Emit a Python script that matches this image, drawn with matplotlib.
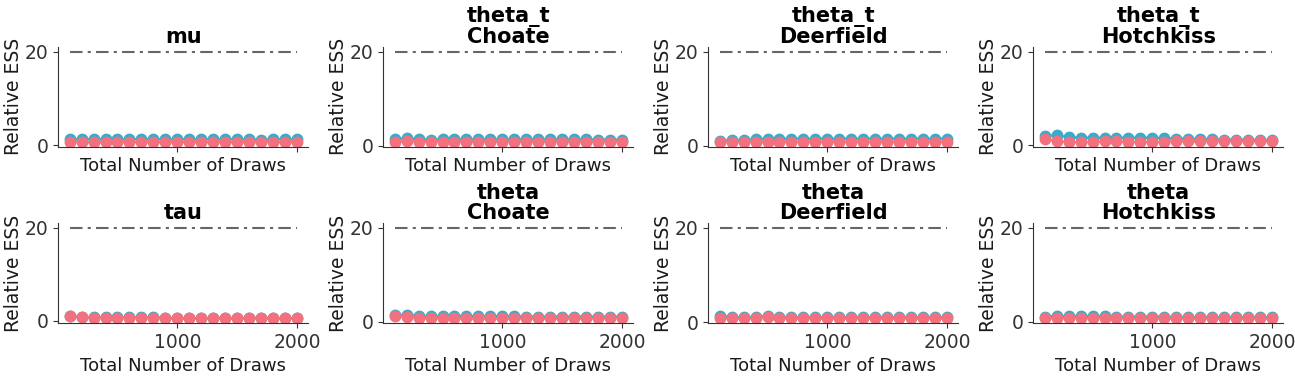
import numpy as np
import matplotlib.pyplot as plt

# draws at which ESS was evaluated
draws = np.arange(100, 2001, 100)

titles = ["mu", "theta_t\nChoate", "theta_t\nDeerfield", "theta_t\nHotchkiss",
          "tau", "theta\nChoate", "theta\nDeerfield", "theta\nHotchkiss"]

# relative ESS (tail / bulk) per panel
tail_mu = [1.3, 1.35, 1.35, 1.3, 1.3, 1.3, 1.35, 1.3, 1.3, 1.3,
           1.3, 1.3, 1.3, 1.3, 1.3, 1.3, 1.25, 1.3, 1.3, 1.3]
bulk_mu = [0.8, 0.7, 0.7, 0.7, 0.7, 0.7, 0.7, 0.7, 0.7, 0.7,
           0.7, 0.7, 0.7, 0.7, 0.7, 0.7, 0.7, 0.7, 0.7, 0.7]
tail_tc = [1.5, 1.6, 1.4, 1.3, 1.4, 1.4, 1.4, 1.4, 1.4, 1.4,
           1.4, 1.4, 1.4, 1.4, 1.4, 1.4, 1.4, 1.35, 1.35, 1.3]
bulk_tc = [0.8, 1.0, 0.9, 0.9, 0.9, 0.9, 0.9, 0.9, 0.9, 0.9,
           0.9, 0.9, 0.9, 0.9, 0.9, 0.9, 0.85, 0.9, 0.9, 0.9]
tail_td = [1.1, 1.2, 1.3, 1.4, 1.5, 1.5, 1.5, 1.5, 1.5, 1.5,
           1.5, 1.5, 1.5, 1.5, 1.5, 1.5, 1.5, 1.5, 1.5, 1.5]
bulk_td = [0.8, 0.8, 0.8, 0.8, 0.8, 0.8, 0.8, 0.8, 0.8, 0.8,
           0.8, 0.8, 0.8, 0.8, 0.8, 0.8, 0.8, 0.8, 0.8, 0.8]
tail_th = [2.0, 2.1, 1.7, 1.6, 1.6, 1.6, 1.6, 1.6, 1.6, 1.6,
           1.5, 1.4, 1.4, 1.3, 1.3, 1.2, 1.2, 1.2, 1.1, 1.1]
bulk_th = [1.3, 0.9, 0.65, 0.65, 0.7, 0.8, 0.8, 0.7, 0.7, 0.7,
           0.7, 0.8, 0.8, 0.8, 0.8, 0.8, 0.8, 0.8, 0.8, 0.8]
tail_tau = [0.9, 0.8, 0.7, 0.7, 0.7, 0.7, 0.7, 0.7, 0.6, 0.5,
            0.5, 0.5, 0.6, 0.6, 0.5, 0.6, 0.6, 0.6, 0.5, 0.5]
bulk_tau = [0.9, 0.7, 0.65, 0.65, 0.65, 0.65, 0.65, 0.65, 0.5, 0.45,
            0.45, 0.45, 0.5, 0.5, 0.45, 0.5, 0.5, 0.5, 0.45, 0.45]
tail_c = [1.4, 1.5, 1.3, 1.2, 1.2, 1.3, 1.2, 1.2, 1.2, 1.2,
          1.2, 1.1, 1.1, 1.1, 1.1, 1.1, 1.1, 1.1, 1.1, 1.1]
bulk_c = [1.3, 1.1, 0.7, 0.8, 0.7, 0.7, 0.7, 0.7, 0.7, 0.7,
          0.7, 0.7, 0.7, 0.7, 0.7, 0.7, 0.7, 0.8, 0.8, 0.8]
tail_d = [1.4, 1.1, 1.1, 1.1, 1.4, 1.1, 1.1, 1.1, 1.1, 1.1,
          1.1, 1.1, 1.1, 1.1, 1.1, 1.1, 1.1, 1.1, 1.1, 1.1]
bulk_d = [0.9, 0.8, 0.8, 0.9, 1.1, 0.8, 0.8, 0.8, 0.8, 0.8,
          0.8, 0.8, 0.8, 0.8, 0.8, 0.8, 0.8, 0.8, 0.8, 0.8]
tail_h = [1.1, 1.2, 1.2, 1.2, 1.2, 1.2, 1.1, 1.1, 1.1, 1.1,
          1.1, 1.0, 1.0, 1.0, 1.0, 1.0, 1.0, 1.0, 1.0, 1.0]
bulk_h = [0.8, 0.8, 0.8, 0.8, 0.8, 0.8, 0.8, 0.7, 0.7, 0.7,
          0.7, 0.7, 0.7, 0.7, 0.7, 0.7, 0.7, 0.7, 0.7, 0.7]

tail_all = [tail_mu, tail_tc, tail_td, tail_th, tail_tau, tail_c, tail_d, tail_h]
bulk_all = [bulk_mu, bulk_tc, bulk_td, bulk_th, bulk_tau, bulk_c, bulk_d, bulk_h]
min_ess_rel = 20

TAIL_COLOR = "#3aabc9"
BULK_COLOR = "#f3717f"

plt.rcParams["font.family"] = "DejaVu Sans"
fig, axes = plt.subplots(2, 4, figsize=(12.95, 3.76), dpi=100, sharex=True)
fig.subplots_adjust(left=0.045, right=0.991, top=0.875, bottom=0.141,
                    wspace=0.30, hspace=0.77)

for ax, title, tail, bulk in zip(axes.flat, titles, tail_all, bulk_all):
    ax.plot(draws, tail, "o-", color=TAIL_COLOR, markersize=7.5, lw=1.6)
    ax.plot(draws, bulk, "o-", color=BULK_COLOR, markersize=7.5, lw=1.6)
    ax.hlines(min_ess_rel, draws[0], draws[-1], color="#666666",
              linestyles=(0, (6, 2.5, 1.5, 2.5)), lw=1.5)
    ax.set_title(title, fontsize=15, fontweight="bold", linespacing=1.0, pad=3)
    ax.set_ylabel("Relative ESS", fontsize=13.5, color="#1a1a1a", labelpad=1)
    ax.set_xlabel("Total Number of Draws", fontsize=13, color="#1a1a1a")
    ax.set_yticks([0, 20])
    ax.set_xticks([1000, 2000])
    ax.tick_params(labelsize=13.5, colors="#333333")
    ax.spines["top"].set_visible(False)
    ax.spines["right"].set_visible(False)
    for s in ("left", "bottom"):
        ax.spines[s].set_color("#333333")

fig.savefig("out.png", dpi=100)
